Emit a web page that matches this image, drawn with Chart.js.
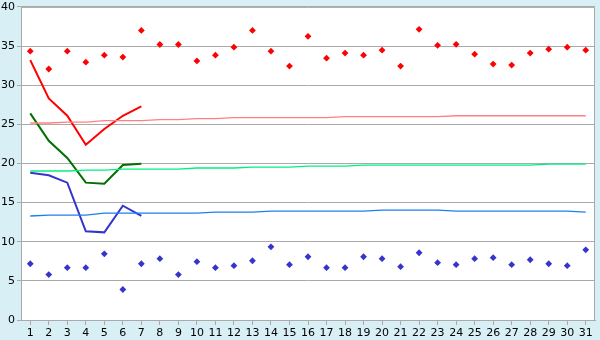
<!DOCTYPE html>
<html>
<head>
<meta charset="utf-8">
<script src="https://cdn.jsdelivr.net/npm/chart.js@4.4.1/dist/chart.umd.min.js"></script>
<style>
html,body{margin:0;padding:0;background:#d9eff6;}
#wrap{width:600px;height:340px;position:relative;}
</style>
</head>
<body>
<div id="wrap"><canvas id="c" width="600" height="340"></canvas></div>
<script>
const days = Array.from({length:31},(_,i)=>String(i+1));
const yTicks = [0,5,10,15,20,25,30,35,40];

const maxPoints = [34.35,32.07,34.35,32.95,33.84,33.6,37.0,35.2,35.2,33.1,
  33.84,34.86,37.0,34.35,32.45,36.25,33.46,34.1,33.84,34.48,32.45,
  37.14,35.1,35.23,33.97,32.7,32.57,34.1,34.6,34.86,34.48];
const minPoints = [7.19,5.8,6.69,6.69,8.46,3.9,7.19,7.83,5.8,7.45,
  6.69,6.94,7.57,9.35,7.07,8.08,6.69,6.69,8.08,7.83,6.81,
  8.59,7.32,7.07,7.83,7.96,7.07,7.70,7.19,6.94,8.97];

const maxLine = [33.2,28.3,26.1,22.4,24.4,26.1,27.3];
const meanLine = [26.4,22.9,20.7,17.55,17.4,19.8,19.96];
const minLine = [18.8,18.5,17.55,11.33,11.2,14.6,13.3];

const maxNormal = [25.17,25.17,25.29,25.29,25.47,25.47,25.47,25.6,25.6,25.72,
  25.72,25.85,25.85,25.85,25.85,25.85,25.85,25.98,25.98,25.98,25.98,
  25.98,25.98,26.1,26.1,26.1,26.1,26.1,26.1,26.1,26.1];
const meanNormal = [19.04,19.04,19.04,19.16,19.16,19.29,19.29,19.29,19.29,19.42,
  19.42,19.42,19.54,19.54,19.54,19.67,19.67,19.67,19.8,19.8,19.8,
  19.8,19.8,19.8,19.8,19.8,19.8,19.8,19.92,19.92,19.92];
const minNormal = [13.29,13.41,13.41,13.41,13.66,13.66,13.66,13.66,13.66,13.66,
  13.79,13.79,13.79,13.92,13.92,13.92,13.92,13.92,13.92,14.05,14.05,
  14.05,14.05,13.92,13.92,13.92,13.92,13.92,13.92,13.92,13.79];

const pad = arr => days.map((_,i)=> i < arr.length ? arr[i] : null);

const frame = {
  id:'frame',
  beforeDraw(chart){
    const {ctx, chartArea:a} = chart;
    ctx.save();
    ctx.fillStyle = '#d9eff6';
    ctx.fillRect(0,0,chart.width,chart.height);
    ctx.fillStyle = '#ffffff';
    ctx.fillRect(a.left,a.top,a.right-a.left,a.bottom-a.top);
    ctx.restore();
  },
  afterDatasetsDraw(chart){
    const {ctx, chartArea:a} = chart;
    ctx.save();
    ctx.strokeStyle = '#aaaaaa';
    ctx.lineWidth = 1;
    ctx.beginPath();
    ctx.moveTo(a.left, a.top+0.5);
    ctx.lineTo(a.right-0.5, a.top+0.5);
    ctx.lineTo(a.right-0.5, a.bottom);
    ctx.stroke();
    ctx.restore();
  }
};

const lineDs = (data,color,w) => ({type:'line',data,borderColor:color,backgroundColor:color,
  borderWidth:w,pointRadius:0,tension:0,spanGaps:false,fill:false});
const ptDs = (data,color) => ({type:'line',data,showLine:false,borderColor:color,backgroundColor:color,
  pointStyle:'rectRot',pointRadius:3.4,pointBorderWidth:0});

new Chart(document.getElementById('c'),{
  type:'line',
  data:{
    labels:days,
    datasets:[
      lineDs(maxNormal,'#ff8080',1.3),
      lineDs(meanNormal,'#00f080',1.3),
      lineDs(minNormal,'#1a80f0',1.3),
      lineDs(pad(maxLine),'#ff0000',2),
      lineDs(pad(meanLine),'#007000',2),
      lineDs(pad(minLine),'#3535cc',2),
      ptDs(maxPoints,'#ff0000'),
      ptDs(minPoints,'#3535cc')
    ]
  },
  options:{
    responsive:false,
    animation:false,
    layout:{padding:{top:0,right:5,left:0,bottom:0}},
    plugins:{legend:{display:false},tooltip:{enabled:false}},
    scales:{
      x:{
        offset:true,
        grid:{offset:false,drawOnChartArea:false,drawTicks:true,tickLength:5,color:'#aaaaaa'},
        border:{color:'#aaaaaa'},
        ticks:{color:'#000',font:{family:'DejaVu Sans',size:11},padding:2,maxRotation:0,autoSkip:false},
        afterFit(s){s.height=20;}
      },
      y:{
        min:0,max:40,
        afterBuildTicks(s){s.ticks = yTicks.map(v=>({value:v}));},
        grid:{color:'#aaaaaa',tickLength:4,drawTicks:true},
        border:{color:'#aaaaaa'},
        ticks:{color:'#000',font:{family:'DejaVu Sans',size:11,lineHeight:0.9},padding:2},
        afterFit(s){s.width=21;}
      }
    }
  },
  plugins:[frame]
});
</script>
</body>
</html>
